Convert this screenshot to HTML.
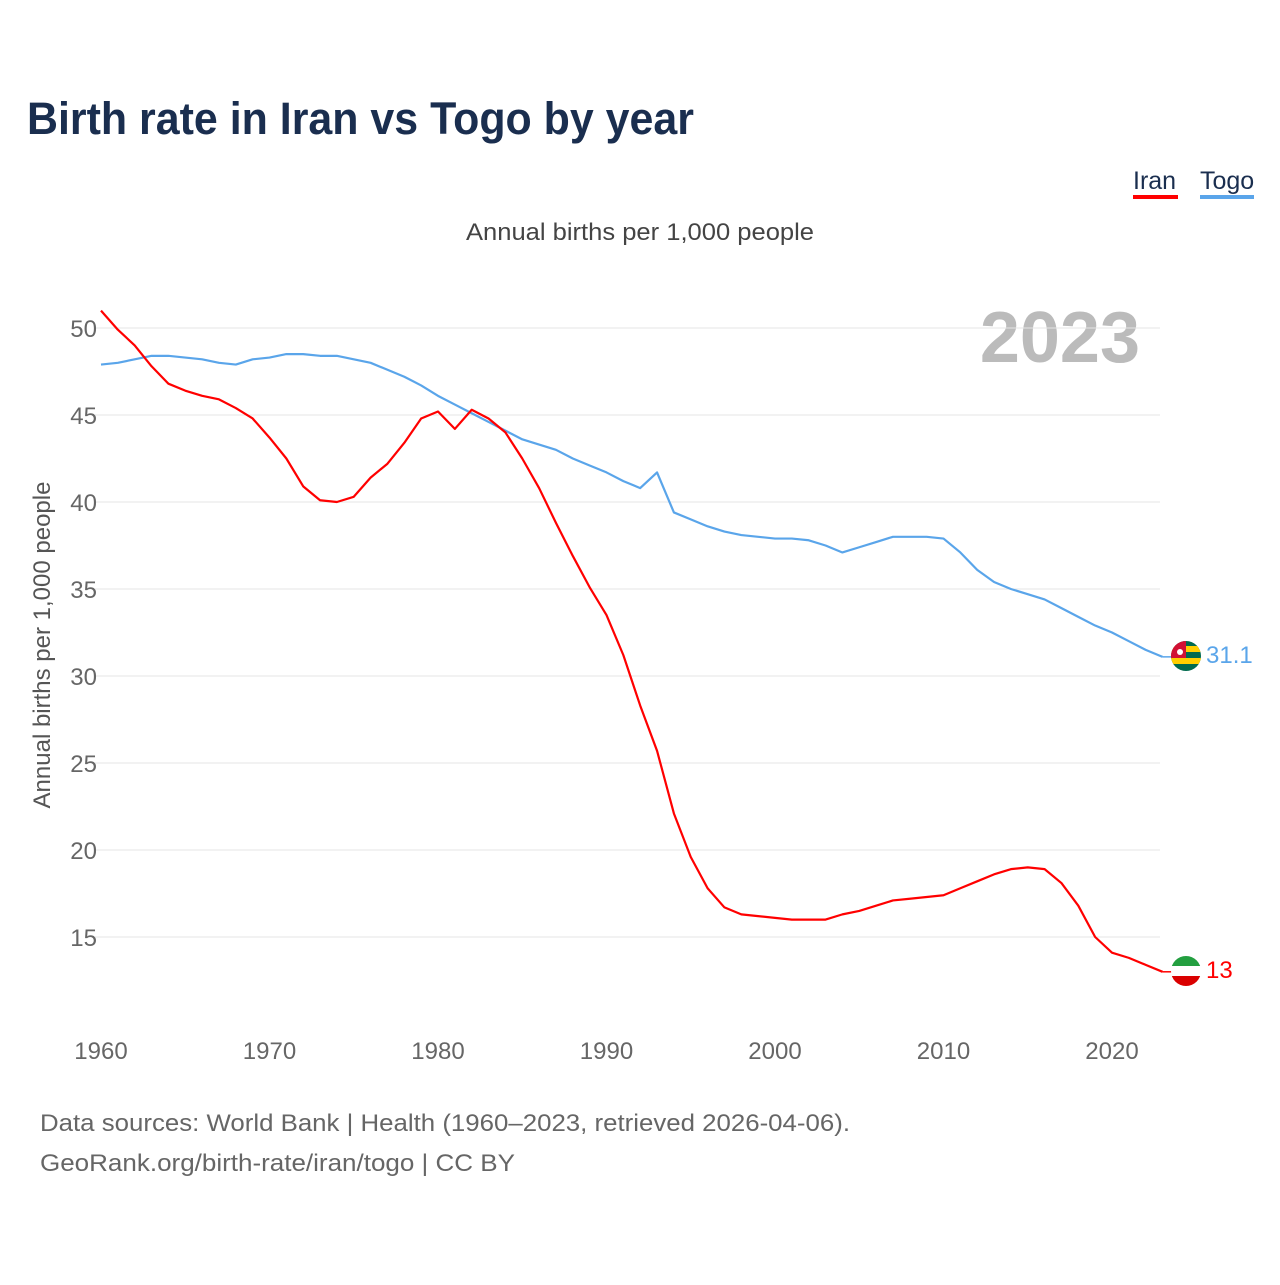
<!DOCTYPE html>
<html><head><meta charset="utf-8"><style>
body{margin:0;background:#fff;font-family:"Liberation Sans",sans-serif}
</style></head><body>
<svg width="1280" height="1280" xmlns="http://www.w3.org/2000/svg">
<text x="27" y="134" font-size="45" font-weight="bold" fill="#1a2e4f" textLength="667" lengthAdjust="spacingAndGlyphs">Birth rate in Iran vs Togo by year</text>
<g>
<text x="1133" y="189" font-size="25" fill="#1a2e4f">Iran</text>
<rect x="1133" y="195" width="45" height="4" fill="#ff0000"/>
<text x="1200" y="189" font-size="25" fill="#1a2e4f">Togo</text>
<rect x="1200" y="195" width="54" height="4" fill="#5aa5ea"/>
</g>
<text x="466" y="240" font-size="24" fill="#444" textLength="348" lengthAdjust="spacingAndGlyphs">Annual births per 1,000 people</text>
<text x="1140" y="362" font-size="72" font-weight="bold" fill="#bbb" text-anchor="end">2023</text>
<text transform="translate(50,645) rotate(-90)" font-size="24" fill="#555" text-anchor="middle">Annual births per 1,000 people</text>
<g id="grid"></g><g id="lines"></g>
<g>
<clipPath id="c1"><circle cx="1186" cy="656" r="15"/></clipPath>
<g clip-path="url(#c1)"><rect x="1170" y="640" width="32" height="32" fill="#006a4e"/><rect x="1170" y="646" width="32" height="6" fill="#ffce00"/><rect x="1170" y="658" width="32" height="6" fill="#ffce00"/><rect x="1170" y="640" width="16" height="18" fill="#d21034"/><circle cx="1180" cy="652" r="3" fill="#fff"/></g></g>
<text x="1206" y="663" font-size="24" fill="#5aa5ea">31.1</text>
<g>
<clipPath id="c2"><circle cx="1186" cy="971" r="15"/></clipPath>
<g clip-path="url(#c2)"><rect x="1170" y="955" width="32" height="11" fill="#239f40"/><rect x="1170" y="966" width="32" height="10" fill="#fff"/><rect x="1170" y="976" width="32" height="12" fill="#da0000"/></g></g>
<text x="1206" y="978" font-size="24" fill="#ff0000">13</text>
<text x="40" y="1131" font-size="24" fill="#666" textLength="810" lengthAdjust="spacingAndGlyphs">Data sources: World Bank | Health (1960–2023, retrieved 2026-04-06).</text>
<text x="40" y="1171" font-size="24" fill="#666" textLength="475" lengthAdjust="spacingAndGlyphs">GeoRank.org/birth-rate/iran/togo | CC BY</text>
</svg>
<script>
const years=[];for(let y=1960;y<=2023;y++)years.push(y);
const iran=[51.0,49.9,49.0,47.8,46.8,46.4,46.1,45.9,45.4,44.8,43.7,42.5,40.9,40.1,40.0,40.3,41.4,42.2,43.4,44.8,45.2,44.2,45.3,44.8,44.0,42.5,40.8,38.8,36.9,35.1,33.5,31.2,28.3,25.7,22.1,19.6,17.8,16.7,16.3,16.2,16.1,16.0,16.0,16.0,16.3,16.5,16.8,17.1,17.2,17.3,17.4,17.8,18.2,18.6,18.9,19.0,18.9,18.1,16.8,15.0,14.1,13.8,13.4,13.0];
const togo=[47.9,48.0,48.2,48.4,48.4,48.3,48.2,48.0,47.9,48.2,48.3,48.5,48.5,48.4,48.4,48.2,48.0,47.6,47.2,46.7,46.1,45.6,45.1,44.6,44.1,43.6,43.3,43.0,42.5,42.1,41.7,41.2,40.8,41.7,39.4,39.0,38.6,38.3,38.1,38.0,37.9,37.9,37.8,37.5,37.1,37.4,37.7,38.0,38.0,38.0,37.9,37.1,36.1,35.4,35.0,34.7,34.4,33.9,33.4,32.9,32.5,32.0,31.5,31.1];
const yTicks=[15,20,25,30,35,40,45,50];
const xTicks=[1960,1970,1980,1990,2000,2010,2020];
const X=v=>101+(v-1960)*16.85, Y=v=>328+(50-v)*17.4;
const NS="http://www.w3.org/2000/svg";
const grid=document.getElementById('grid'),lines=document.getElementById('lines');
function mk(t,a,p){const e=document.createElementNS(NS,t);for(const k in a)e.setAttribute(k,a[k]);p.appendChild(e);return e;}
yTicks.forEach(v=>{
 const l=mk('line',{x1:95,x2:1160,y1:Y(v),y2:Y(v),stroke:'#e6e6e6','stroke-width':1},grid);
 
 
 const t=mk('text',{x:97,y:Y(v)+9,'font-size':24,fill:'#666','text-anchor':'end'},grid);t.textContent=v;
 
 
});
xTicks.forEach(v=>{
 const t=mk('text',{x:X(v),y:1059,'font-size':24,fill:'#666','text-anchor':'middle'},grid);t.textContent=v;
 
 
});
function line(d,c,n){const p=mk('polyline',{points:d.map((v,i)=>X(years[i])+','+Y(v)).join(' '),fill:'none',stroke:c,'stroke-width':2.2,'stroke-linejoin':'round'},lines);
 
 
 mk('line',{x1:X(2023),x2:1172,y1:Y(d[d.length-1]),y2:Y(d[d.length-1]),stroke:c,'stroke-width':1.5},lines);}
line(togo,'#5aa5ea','togo-line');
line(iran,'#ff0000','iran-line');
</script>
</body></html>
